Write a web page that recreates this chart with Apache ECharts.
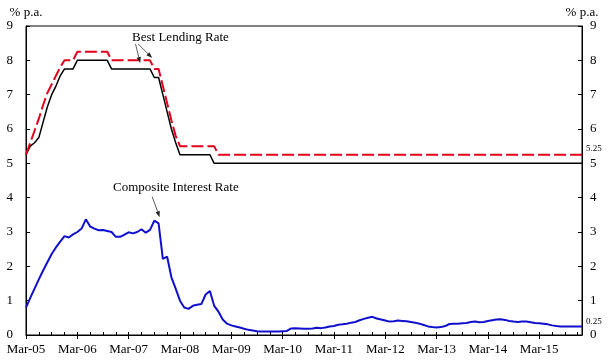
<!DOCTYPE html>
<html>
<head>
<meta charset="utf-8">
<script src="https://cdn.jsdelivr.net/npm/echarts@6/dist/echarts.min.js"></script>
<style>
html,body{margin:0;padding:0;background:#fff;}
#c{width:608px;height:363px;}
</style>
</head>
<body>
<div id="c"></div>
<script>
// ---- data (monthly, Mar-05 .. Jan-16) ----
const tickLabels = ['Mar-05','Mar-06','Mar-07','Mar-08','Mar-09','Mar-10','Mar-11','Mar-12','Mar-13','Mar-14','Mar-15'];

const bestLendingUpper = [
  5.25,5.6,5.95,6.3,6.7,7.05,7.3,7.55,7.8,8.0,
  8.0,8.0,8.25,8.25,8.25,8.25,8.25,8.25,8.25,8.25,
  8.0,8.0,8.0,8.0,8.0,8.0,8.0,8.0,8.0,8.0,
  7.75,7.75,7.25,6.75,6.25,5.8,5.5,5.5,5.5,5.5,
  5.5,5.5,5.5,5.5,5.5,5.25,5.25,5.25,5.25,5.25,
  5.25,5.25,5.25,5.25,5.25,5.25,5.25,5.25,5.25,5.25,
  5.25,5.25,5.25,5.25,5.25,5.25,5.25,5.25,5.25,5.25,
  5.25,5.25,5.25,5.25,5.25,5.25,5.25,5.25,5.25,5.25,
  5.25,5.25,5.25,5.25,5.25,5.25,5.25,5.25,5.25,5.25,
  5.25,5.25,5.25,5.25,5.25,5.25,5.25,5.25,5.25,5.25,
  5.25,5.25,5.25,5.25,5.25,5.25,5.25,5.25,5.25,5.25,
  5.25,5.25,5.25,5.25,5.25,5.25,5.25,5.25,5.25,5.25,
  5.25,5.25,5.25,5.25,5.25,5.25,5.25,5.25,5.25,5.25,
  5.25
];

const bestLendingLower = [
  5.25,5.5,5.6,5.75,6.2,6.65,7.0,7.25,7.55,7.75,
  7.75,7.75,8.0,8.0,8.0,8.0,8.0,8.0,8.0,8.0,
  7.75,7.75,7.75,7.75,7.75,7.75,7.75,7.75,7.75,7.75,
  7.5,7.5,7.0,6.5,6.0,5.6,5.25,5.25,5.25,5.25,
  5.25,5.25,5.25,5.25,5.0,5.0,5.0,5.0,5.0,5.0,
  5.0,5.0,5.0,5.0,5.0,5.0,5.0,5.0,5.0,5.0,
  5.0,5.0,5.0,5.0,5.0,5.0,5.0,5.0,5.0,5.0,
  5.0,5.0,5.0,5.0,5.0,5.0,5.0,5.0,5.0,5.0,
  5.0,5.0,5.0,5.0,5.0,5.0,5.0,5.0,5.0,5.0,
  5.0,5.0,5.0,5.0,5.0,5.0,5.0,5.0,5.0,5.0,
  5.0,5.0,5.0,5.0,5.0,5.0,5.0,5.0,5.0,5.0,
  5.0,5.0,5.0,5.0,5.0,5.0,5.0,5.0,5.0,5.0,
  5.0,5.0,5.0,5.0,5.0,5.0,5.0,5.0,5.0,5.0,
  5.0
];

const compositeRate = [
  0.80,1.08,1.35,1.62,1.88,2.12,2.36,2.55,2.72,2.88,
  2.84,2.93,3.00,3.10,3.37,3.16,3.10,3.05,3.06,3.03,
  3.00,2.86,2.86,2.92,2.99,2.96,3.00,3.08,2.98,3.06,
  3.33,3.25,2.22,2.28,1.68,1.35,1.00,0.80,0.76,0.85,
  0.88,0.90,1.18,1.28,0.85,0.68,0.45,0.33,0.28,0.25,
  0.22,0.18,0.15,0.13,0.11,0.10,0.10,0.10,0.10,0.10,
  0.11,0.12,0.19,0.20,0.19,0.18,0.18,0.19,0.21,0.20,
  0.22,0.25,0.26,0.30,0.31,0.33,0.36,0.38,0.43,0.47,
  0.50,0.53,0.48,0.45,0.42,0.39,0.40,0.42,0.41,0.40,
  0.38,0.36,0.33,0.29,0.25,0.23,0.22,0.23,0.26,0.32,
  0.33,0.33,0.34,0.35,0.38,0.39,0.37,0.38,0.41,0.43,
  0.45,0.46,0.44,0.41,0.39,0.38,0.39,0.39,0.37,0.35,
  0.34,0.33,0.31,0.28,0.26,0.25,0.25,0.25,0.25,0.25,
  0.25
];

const yTicks = [0,1,2,3,4,5,6,7,8,9];

// monthly category labels
const monthNames = ['Jan','Feb','Mar','Apr','May','Jun','Jul','Aug','Sep','Oct','Nov','Dec'];
const months = [];
for (let i = 0; i < compositeRate.length; i++) {
  const k = 2 + i;
  months.push(monthNames[k % 12] + '-' + String(5 + Math.floor(k / 12)).padStart(2, '0'));
}

// annotations (data coordinates: [month index, value])
const annotationTexts = [
  {text: 'Best Lending Rate', at: [24.8, 8.67]},
  {text: 'Composite Interest Rate', at: [20.35, 4.29]}
];
const annotationArrows = [
  {from: [25.6, 8.48], to: [26.7, 7.92]},
  {from: [26.2, 8.48], to: [29.5, 8.07]},
  {from: [29.5, 4.03], to: [31.25, 3.43]}
];

const FONT = '"Liberation Serif", "Times New Roman", serif';
const chart = echarts.init(document.getElementById('c'), null, {renderer: 'canvas'});

const yAxisCommon = {
  type: 'value', min: 0, max: yTicks[yTicks.length - 1], interval: 1,
  axisLine: {show: true, lineStyle: {color: '#000', width: 1}},
  axisTick: {show: true, inside: true, length: 4, lineStyle: {color: '#000'}},
  splitLine: {show: false},
  name: '% p.a.', nameLocation: 'end', nameGap: 7,
  nameTextStyle: {color: '#000', fontFamily: FONT, fontSize: 13}
};

chart.setOption({
  animation: false,
  backgroundColor: '#fff',
  grid: {left: 26, right: 26, top: 26, bottom: 28, show: true, borderColor: '#000', borderWidth: 1},
  xAxis: [{
    type: 'category', data: months, boundaryGap: false,
    axisLine: {show: true, lineStyle: {color: '#000', width: 1}},
    axisTick: {show: true, inside: true, length: 3, interval: 2, lineStyle: {color: '#000'}},
    axisLabel: {
      interval: (idx, val) => tickLabels.includes(val),
      color: '#000', fontFamily: FONT, fontSize: 13, margin: 8
    },
    splitLine: {show: false}
  }, {
    type: 'category', data: months, boundaryGap: false, position: 'bottom', offset: 0,
    axisLine: {show: false},
    axisTick: {show: true, inside: false, length: 4, interval: (idx, val) => tickLabels.includes(val), lineStyle: {color: '#000'}},
    axisLabel: {show: false},
    splitLine: {show: false}
  }],
  yAxis: [
    Object.assign({}, yAxisCommon, {position: 'left',
      axisLabel: {color: '#000', fontFamily: FONT, fontSize: 13, margin: 13}}),
    Object.assign({}, yAxisCommon, {position: 'right',
      axisLabel: {color: '#000', fontFamily: FONT, fontSize: 13, margin: 8}})
  ],
  series: [
    {
      name: 'Best Lending Rate (upper)', type: 'line', data: bestLendingUpper,
      symbol: 'none', z: 3,
      lineStyle: {color: '#E3001B', width: 2, type: [12, 4]},
      endLabel: {show: true, formatter: p => Number(p.value).toFixed(2),
        color: '#000', fontFamily: FONT, fontSize: 9, distance: 4, offset: [0, -6]}
    },
    {
      name: 'Best Lending Rate (lower)', type: 'line', data: bestLendingLower,
      symbol: 'none', z: 2,
      lineStyle: {color: '#000', width: 1.5}
    },
    {
      name: 'Composite Interest Rate', type: 'line', data: compositeRate,
      symbol: 'none', z: 4,
      lineStyle: {color: '#1010CC', width: 2},
      endLabel: {show: true, formatter: p => Number(p.value).toFixed(2),
        color: '#000', fontFamily: FONT, fontSize: 9, distance: 4, offset: [0, -5]}
    }
  ]
});

function px(pt) {
  const m = pt[0], v = pt[1];
  const i = Math.floor(m), f = m - i;
  const a = chart.convertToPixel({gridIndex: 0}, [i, v]);
  const b = chart.convertToPixel({gridIndex: 0}, [i + 1, v]);
  return [a[0] + f * (b[0] - a[0]), a[1]];
}

const graphics = [];
annotationTexts.forEach(a => {
  const p = px(a.at);
  graphics.push({type: 'text', z: 10, style: {
    text: a.text, x: p[0], y: p[1], textAlign: 'left', textVerticalAlign: 'middle',
    font: '13px ' + FONT, fill: '#000'}});
});
annotationArrows.forEach(a => {
  const p1 = px(a.from), p2 = px(a.to);
  const dx = p2[0] - p1[0], dy = p2[1] - p1[1];
  const len = Math.sqrt(dx * dx + dy * dy);
  const ux = dx / len, uy = dy / len, nx = -uy, ny = ux;
  const hl = 6, hw = 2.2;
  const base = [p2[0] - ux * hl, p2[1] - uy * hl];
  graphics.push({type: 'line', z: 10, shape: {x1: p1[0], y1: p1[1], x2: base[0], y2: base[1]},
    style: {stroke: '#333', lineWidth: 0.8}});
  graphics.push({type: 'polygon', z: 10, shape: {points: [p2,
    [base[0] + nx * hw, base[1] + ny * hw], [base[0] - nx * hw, base[1] - ny * hw]]},
    style: {fill: '#222'}});
});
chart.setOption({graphic: graphics});
</script>
</body>
</html>
